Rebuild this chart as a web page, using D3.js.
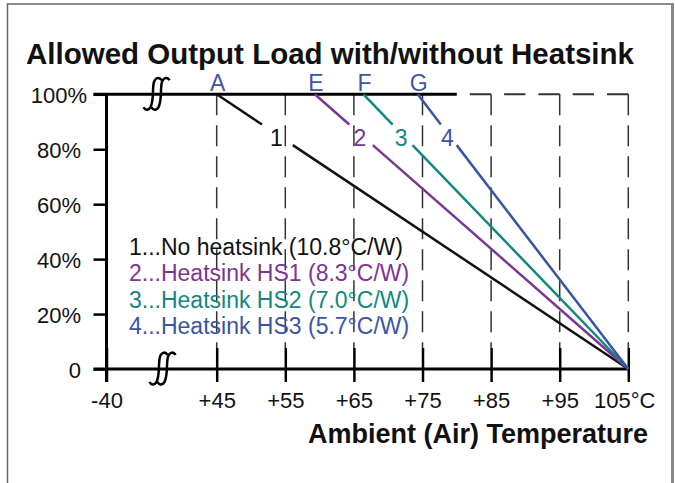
<!DOCTYPE html>
<html>
<head>
<meta charset="utf-8">
<script src="https://cdn.jsdelivr.net/npm/d3@7"></script>
<style>
body { margin: 0; background: #fff; }
text { font-family: "Liberation Sans", Arial, sans-serif; }
</style>
</head>
<body>
<svg id="chart"></svg>
<script>
// ---- data ----
let tempTicks = [-40, 45, 55, 65, 75, 85, 95, 105];
let loadTicks = [0, 20, 40, 60, 80, 100];
let seriesNames = [
	'1...No heatsink (10.8°C/W)',
	'2...Heatsink HS1 (8.3°C/W)',
	'3...Heatsink HS2 (7.0°C/W)',
	'4...Heatsink HS3 (5.7°C/W)'
];
let seriesNums = ['1', '2', '3', '4'];
let seriesLetters = ['A', 'E', 'F', 'G'];
let seriesStart = [45, 59.3, 66.4, 74.3];   // temp where derating starts (100%)
let endTemp = 105;                          // all series reach 0% here
let solidTopEnd = 80;                       // 100% line is solid up to here

// ---- layout ----
let width = 675, height = 483;
let colors = ['#111111', '#7b3592', '#13877e', '#3b53a4'];
let letterColor = '#3d55a6';
let gapBand = [89, 81.5];   // load band left open for number labels

let svg = d3.select('#chart')
	.attr('width', width)
	.attr('height', height);

svg.append('rect')
	.attr('width', width)
	.attr('height', height)
	.attr('fill', '#fff');

// frame
svg.append('rect')
	.attr('x', 7.5)
	.attr('y', 4)
	.attr('width', 665)
	.attr('height', 500)
	.attr('fill', 'none')
	.attr('stroke', '#666')
	.attr('stroke-width', 1.5);
svg.append('line')
	.attr('x1', 672.5).attr('x2', 672.5)
	.attr('y1', 3).attr('y2', height)
	.attr('stroke', '#888')
	.attr('stroke-width', 3);

let xScale = d3.scaleLinear()
	.domain([-40, 45, 105])
	.range([106.5, 216.7, 628.3]);

let yScale = d3.scaleLinear()
	.domain([0, 100])
	.range([369, 94.3]);

// title
svg.append('text')
	.attr('x', 26)
	.attr('y', 64)
	.style('font-size', '29.5px')
	.style('font-weight', 'bold')
	.attr('fill', '#111')
	.text('Allowed Output Load with/without Heatsink');

// dashed grid
svg.append('g')
	.selectAll('line')
	.data(tempTicks.filter(d => d > -40))
	.join('line')
	.attr('x1', d => xScale(d))
	.attr('x2', d => xScale(d))
	.attr('y1', yScale(100))
	.attr('y2', yScale(0) - 21)
	.attr('stroke', '#333')
	.attr('stroke-width', 1.5)
	.attr('stroke-dasharray', '21,10');

svg.append('line')
	.attr('x1', xScale(endTemp))
	.attr('x2', xScale(solidTopEnd))
	.attr('y1', yScale(100))
	.attr('y2', yScale(100))
	.attr('stroke', '#333')
	.attr('stroke-width', 2)
	.attr('stroke-dasharray', '21.3,13');

// AXES
let yAxis = d3.axisLeft(yScale)
	.tickValues(loadTicks)
	.tickFormat(d => d === 0 ? '0' : d + '%')
	.tickSize(13);

let yAxisGroup = svg.append('g')
	.attr('transform', `translate(${xScale(-40)},0)`)
	.call(yAxis);
yAxisGroup.select('.domain').remove();
yAxisGroup.selectAll('.tick line')
	.attr('stroke', '#000')
	.attr('stroke-width', 2.5);
yAxisGroup.selectAll('.tick text')
	.attr('x', d => d === 100 ? -19.5 : -25.5)
	.attr('y', 8)
	.attr('dy', null)
	.attr('fill', '#111')
	.style('font-size', '22px')
	.style('font-family', '"Liberation Sans", Arial, sans-serif');

let xAxis = d3.axisBottom(xScale)
	.tickValues(tempTicks)
	.tickFormat(d => d === -40 ? '-40' : d === 105 ? '105°C' : '+' + d)
	.tickSize(13);

let xAxisGroup = svg.append('g')
	.attr('transform', `translate(0,${yScale(0)})`)
	.call(xAxis);
xAxisGroup.select('.domain').remove();
xAxisGroup.selectAll('.tick line')
	.attr('y1', -21)
	.attr('stroke', '#000')
	.attr('stroke-width', 2.5);
xAxisGroup.selectAll('.tick text')
	.attr('x', d => d === 105 ? -4 : 0)
	.attr('y', 39)
	.attr('dy', null)
	.attr('fill', '#111')
	.style('font-size', '22px')
	.style('font-family', '"Liberation Sans", Arial, sans-serif');

// axis lines
svg.append('line')
	.attr('x1', xScale(-40)).attr('x2', xScale(-40))
	.attr('y1', yScale(100)).attr('y2', yScale(0) + 13)
	.attr('stroke', '#000').attr('stroke-width', 3);
svg.append('line')
	.attr('x1', xScale(-40) - 13).attr('x2', xScale(endTemp))
	.attr('y1', yScale(0)).attr('y2', yScale(0))
	.attr('stroke', '#000').attr('stroke-width', 3);
svg.append('line')
	.attr('x1', xScale(-40) - 13).attr('x2', xScale(solidTopEnd))
	.attr('y1', yScale(100)).attr('y2', yScale(100))
	.attr('stroke', '#000').attr('stroke-width', 3);

// x-axis title
svg.append('text')
	.attr('x', 648)
	.attr('y', 443)
	.attr('text-anchor', 'end')
	.style('font-size', '27px')
	.style('font-weight', 'bold')
	.attr('fill', '#111')
	.text('Ambient (Air) Temperature');

// SERIES
let tempAt = (start, load) => start + (100 - load) / 100 * (endTemp - start);
let line = d3.line()
	.x(d => xScale(d.t))
	.y(d => yScale(d.l));

seriesStart.forEach(function (start, i) {
	let pieces = [[100, gapBand[0]], [gapBand[1], 0]];
	pieces.forEach(function (p) {
		svg.append('path')
			.datum(p.map(l => ({ t: tempAt(start, l), l: l })))
			.attr('d', line)
			.attr('fill', 'none')
			.attr('stroke', colors[i])
			.attr('stroke-width', 2.5);
	});

	svg.append('text')
		.attr('x', xScale(tempAt(start, 85)) - 2)
		.attr('y', yScale(85) + 10.5)
		.attr('text-anchor', 'middle')
		.attr('fill', colors[i])
		.style('font-size', '23px')
		.text(seriesNums[i]);

	svg.append('text')
		.attr('x', xScale(start) + 1)
		.attr('y', yScale(100) - 3)
		.attr('text-anchor', 'middle')
		.attr('fill', letterColor)
		.style('font-size', '23px')
		.text(seriesLetters[i]);
});

// legend
svg.append('g')
	.selectAll('text')
	.data(seriesNames)
	.join('text')
	.attr('x', 129)
	.attr('y', (d, i) => 254.5 + i * 26.6)
	.attr('fill', (d, i) => colors[i])
	.style('font-size', '23px')
	.text(d => d);

// axis break marks
function breakMark(cx, cy) {
	let g = svg.append('g').attr('transform', `translate(${cx},${cy})`);
	[-4, 4].forEach(function (dx) {
		g.append('path')
			.attr('d', `M${dx + 9},-14 C${dx + 7},-18 ${dx + 2},-17 ${dx + 1},-10 C${dx},-3 ${dx + 1},4 ${dx - 1},10 C${dx - 2},16 ${dx - 7},17 ${dx - 9},13`)
			.attr('fill', 'none')
			.attr('stroke', '#000')
			.attr('stroke-width', 2.5);
	});
}
breakMark(156.5, yScale(100));
breakMark(162.5, yScale(0));
</script>
</body>
</html>
